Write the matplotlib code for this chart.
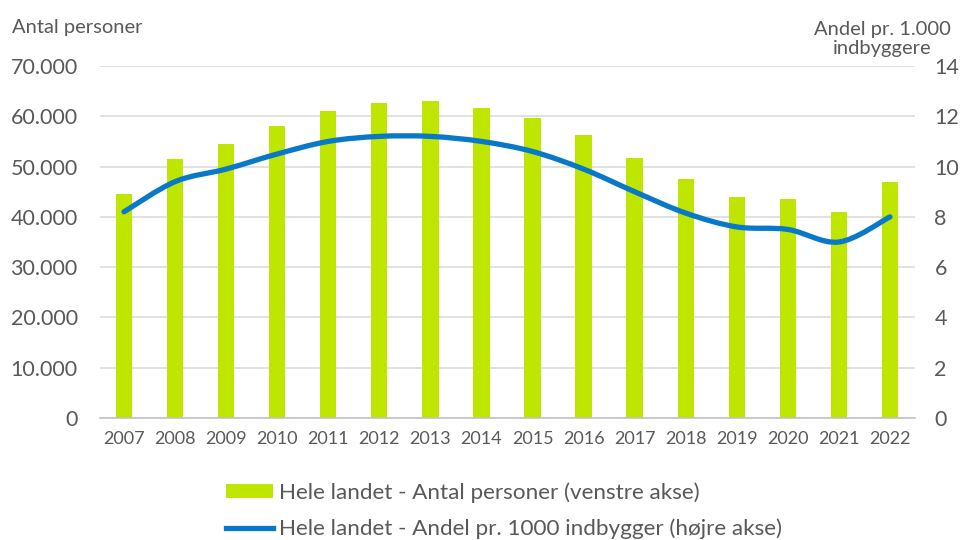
import matplotlib
matplotlib.use("Agg")
import matplotlib.pyplot as plt
from matplotlib.path import Path
from matplotlib.patches import PathPatch
from matplotlib.lines import Line2D
from matplotlib.patches import Patch
from matplotlib.ticker import FuncFormatter
import numpy as np

years = ["2007", "2008", "2009", "2010", "2011", "2012", "2013", "2014",
         "2015", "2016", "2017", "2018", "2019", "2020", "2021", "2022"]
antal_personer = [44500, 51500, 54500, 58000, 61000, 62600, 63000, 61600,
                  59700, 56300, 51700, 47500, 44000, 43600, 41000, 46900]
andel_pr_1000 = [8.2, 9.4, 9.9, 10.5, 11.0, 11.2, 11.2, 11.0,
                 10.6, 9.9, 9.0, 8.15, 7.6, 7.5, 7.0, 8.0]

left_ticks = [0, 10000, 20000, 30000, 40000, 50000, 60000, 70000]
right_ticks = [0, 2, 4, 6, 8, 10, 12, 14]

bar_label = "Hele landet - Antal personer (venstre akse)"
line_label = "Hele landet - Andel pr. 1000 indbygger (højre akse)"
left_title = "Antal personer"
right_title = "Andel pr. 1.000\nindbyggere"

BAR_C = "#BEE600"
LINE_C = "#0A78C8"
TXT = "#595959"
GRID = "#D9D9D9"

plt.rcParams["font.family"] = ["Lato", "DejaVu Sans"]

fig = plt.figure(figsize=(9.65, 5.4), dpi=100)
ax = fig.add_axes([100/965, (540-418)/540, 815/965, 352/540])
ax2 = ax.twinx()

x = np.arange(len(years))
ax.bar(x, antal_personer, width=0.32, color=BAR_C, zorder=2)
ax.set_ylim(0, 70000)
ax.set_xlim(-0.47, len(years) - 1 + 0.49)
ax.set_yticks(left_ticks)
ax.yaxis.set_major_formatter(FuncFormatter(lambda v, p: f"{int(v):,}".replace(",", ".")))
ax.set_xticks(x)
ax.set_xticklabels(years)
ax.grid(axis="y", color=GRID, linewidth=1.1, zorder=0)
ax.set_axisbelow(True)
for s in ["top", "right", "left"]:
    ax.spines[s].set_visible(False)
ax.spines["bottom"].set_color("#BFBFBF")
ax.spines["bottom"].set_linewidth(1.1)
ax.tick_params(axis="y", length=0, pad=16, labelsize=15.5, labelcolor=TXT)
ax.tick_params(axis="x", length=0, pad=9, labelsize=13, labelcolor=TXT)

# smoothed line (Catmull-Rom style bezier like Excel smoothing)
ys = np.array(andel_pr_1000, dtype=float)
xs = x.astype(float)
verts = [(xs[0], ys[0])]
codes = [Path.MOVETO]
n = len(xs)
for i in range(n - 1):
    p0 = (xs[max(i-1, 0)], ys[max(i-1, 0)])
    p1 = (xs[i], ys[i])
    p2 = (xs[i+1], ys[i+1])
    p3 = (xs[min(i+2, n-1)], ys[min(i+2, n-1)])
    c1 = (p1[0] + (p2[0]-p0[0])/6, p1[1] + (p2[1]-p0[1])/6)
    c2 = (p2[0] - (p3[0]-p1[0])/6, p2[1] - (p3[1]-p1[1])/6)
    verts += [c1, c2, p2]
    codes += [Path.CURVE4]*3
patch = PathPatch(Path(verts, codes), facecolor="none", edgecolor=LINE_C,
                  linewidth=3.8, capstyle="round", joinstyle="round", zorder=3)
ax2.add_patch(patch)
ax2.set_ylim(0, 14)
ax2.set_yticks(right_ticks)
for s in ["top", "right", "left", "bottom"]:
    ax2.spines[s].set_visible(False)
ax2.tick_params(axis="y", length=0, pad=14, labelsize=15.5, labelcolor=TXT)

fig.text(12/965, 1 - 27/540, left_title, fontsize=14.5, color=TXT, ha="left", va="center")
fig.text(882/965, 1 - 39/540, right_title, fontsize=14.5, color=TXT, ha="center", va="center",
         linespacing=1.15)

handles = [Patch(facecolor=BAR_C, edgecolor="none"),
           Line2D([0], [0], color=LINE_C, linewidth=3.8)]
leg = fig.legend(handles, [bar_label, line_label], loc="upper left",
                 bbox_to_anchor=(226/965, 1 - 482/540), frameon=False,
                 fontsize=16.2, handlelength=2.1, handleheight=0.6, handletextpad=0.25,
                 labelspacing=0.72, borderaxespad=0, borderpad=0)
for t in leg.get_texts():
    t.set_color(TXT)

fig.savefig("out.png", dpi=100, facecolor="white")
